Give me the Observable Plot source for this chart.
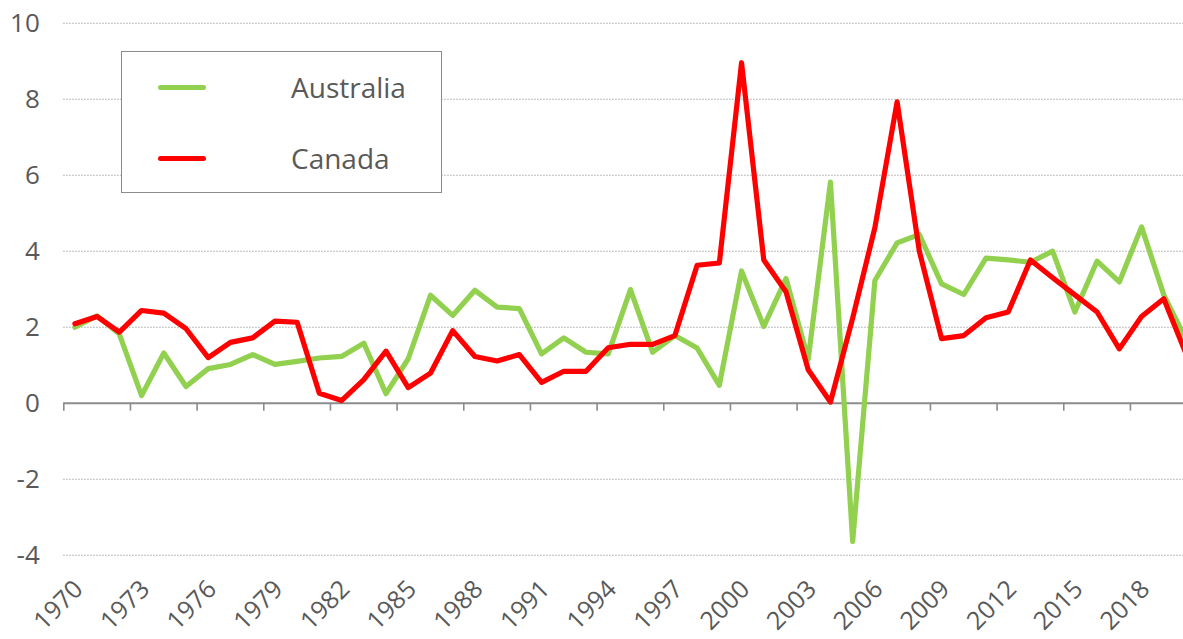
<!DOCTYPE html>
<html>
<head>
<meta charset="utf-8">
<script src="https://cdn.jsdelivr.net/npm/d3@7"></script>
<script src="https://cdn.jsdelivr.net/npm/@observablehq/plot@0.6"></script>
<style>
  html, body { margin: 0; padding: 0; background: #fff; overflow: hidden; }
  #wrap { position: relative; width: 1183px; height: 639px; font-family: 'Open Sans', sans-serif; }
  #legend { position: absolute; left: 121px; top: 51px; width: 319px; height: 140px; border: 1.5px solid #8c8c8c; background: #fff; box-sizing: content-box; }
  .row { position: absolute; left: 0; display: flex; align-items: center; transform: translateY(-50%); }
  .sw { width: 48px; height: 5px; border-radius: 3px; margin-left: 36px; }
  .lab { margin-left: 85px; font-size: 28px; line-height: 1; color: #595959; white-space: nowrap; }
</style>
</head>
<body>
<div id="wrap"></div>
<script>
const years = [1970,1971,1972,1973,1974,1975,1976,1977,1978,1979,
  1980,1981,1982,1983,1984,1985,1986,1987,1988,1989,
  1990,1991,1992,1993,1994,1995,1996,1997,1998,1999,
  2000,2001,2002,2003,2004,2005,2006,2007,2008,2009,
  2010,2011,2012,2013,2014,2015,2016,2017,2018,2019,2020];
const australia = [2.00,2.30,1.82,0.20,1.32,0.44,0.91,1.02,1.28,1.02,
  1.10,1.19,1.23,1.58,0.25,1.17,2.84,2.31,2.97,2.53,
  2.49,1.30,1.72,1.34,1.30,2.99,1.34,1.78,1.45,0.47,
  3.48,2.02,3.28,1.16,5.82,-3.64,3.23,4.22,4.44,3.14,
  2.86,3.82,3.77,3.71,4.00,2.40,3.74,3.19,4.64,2.85,1.68];
const canada = [2.09,2.28,1.87,2.44,2.37,1.96,1.20,1.60,1.72,2.16,
  2.13,0.26,0.07,0.62,1.37,0.41,0.79,1.91,1.23,1.11,
  1.28,0.55,0.84,0.84,1.46,1.55,1.55,1.78,3.63,3.69,
  8.96,3.77,2.93,0.88,0.03,2.24,4.62,7.93,4.00,1.70,
  1.78,2.25,2.40,3.77,3.30,2.85,2.40,1.43,2.28,2.75,1.30];
const yTicks = [-4,-2,0,2,4,6,8,10];
const labelYears = [1970,1973,1976,1979,1982,1985,1988,1991,1994,1997,2000,2003,2006,2009,2012,2015,2018];
const seriesNames = ["Australia","Canada"];
const seriesColors = ["#92D050","#FF0000"];

const ausData = years.map((y,i)=>({year:y, value:australia[i]}));
const canData = years.map((y,i)=>({year:y, value:canada[i]}));

const chart = Plot.plot({
  width: 1183,
  height: 639,
  marginLeft: 63.3,
  marginRight: 0,
  marginTop: 22.7,
  marginBottom: 84.3,
  x: {type: "linear", domain: [1969.5, 2020.5], range: [63.3, 1196.6], axis: null},
  y: {domain: [-4, 10], axis: null},
  style: {fontFamily: "'Open Sans', sans-serif", color: "#595959", background: "#fff"},
  marks: [
    Plot.ruleY(yTicks.filter(v => v !== 0), {stroke: "#9a9a9a", strokeWidth: 1.1, strokeDasharray: "1.3,1.7"}),
    Plot.axisY(yTicks, {tickSize: 0, tickPadding: 24, fontSize: 26, label: null, fill: "#595959", tickFormat: d => String(d)}),
    Plot.ruleY([0], {stroke: "#8c8c8c", strokeWidth: 2}),
    Plot.ruleX(labelYears.map(d => d - 0.5), {y1: 0, y2: 0, insetBottom: -8, stroke: "#8c8c8c", strokeWidth: 1.6}),
    Plot.text(labelYears, {x: d => d, frameAnchor: "bottom", text: d => String(d), rotate: -45, textAnchor: "end", lineAnchor: "top", dx: -3, dy: 23, fontSize: 25, fill: "#595959"}),
    Plot.line(ausData, {x: "year", y: "value", stroke: seriesColors[0], strokeWidth: 5.2, strokeLinejoin: "round", clip: true}),
    Plot.line(canData, {x: "year", y: "value", stroke: seriesColors[1], strokeWidth: 5.2, strokeLinejoin: "round", clip: true})
  ]
});

const wrap = document.getElementById("wrap");
wrap.appendChild(chart);
const legend = document.createElement("div");
legend.id = "legend";
const rowCenters = [35, 106];
seriesNames.forEach((name, i) => {
  const row = document.createElement("div");
  row.className = "row";
  row.style.top = rowCenters[i] + "px";
  const sw = document.createElement("div");
  sw.className = "sw";
  sw.style.background = seriesColors[i];
  const lab = document.createElement("div");
  lab.className = "lab";
  lab.textContent = name;
  row.appendChild(sw);
  row.appendChild(lab);
  legend.appendChild(row);
});
wrap.appendChild(legend);
</script>
</body>
</html>
